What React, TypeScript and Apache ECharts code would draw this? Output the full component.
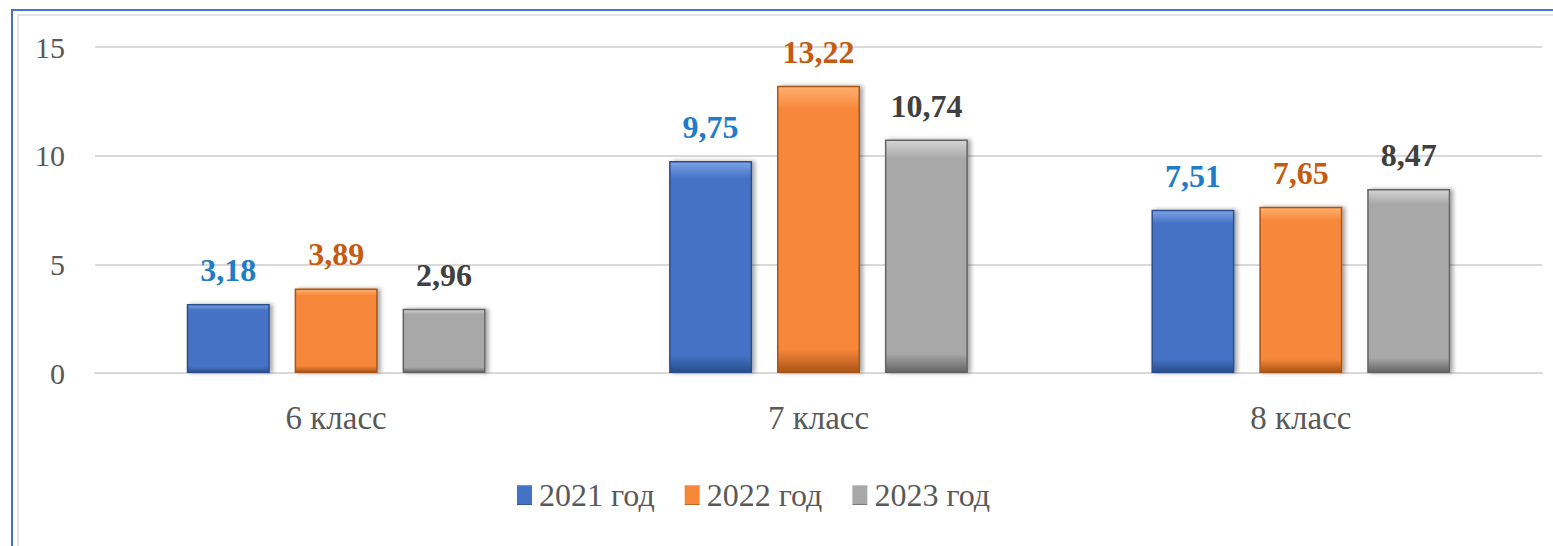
import React, { useEffect, useRef } from "react";
import * as echarts from "echarts";

const categories = ["6 класс", "7 класс", "8 класс"];
const seriesNames = ["2021 год", "2022 год", "2023 год"];
const values2021 = [3.18, 9.75, 7.51];
const values2022 = [3.89, 13.22, 7.65];
const values2023 = [2.96, 10.74, 8.47];
const yTicks = { min: 0, max: 15, interval: 5 };

const barColors = [
  ["#7ea3e6", "#4472c4", "#2a4d8c"],
  ["#ffb070", "#f7883a", "#a85418"],
  ["#d4d4d4", "#a8a8a8", "#646464"],
];
const labelColors = ["#1e7cc8", "#c55a11", "#404040"];

export default function App() {
  const ref = useRef<HTMLDivElement>(null);
  useEffect(() => {
    if (!ref.current) return;
    const chart = echarts.init(ref.current, undefined, { renderer: "svg" });
    const all = [values2021, values2022, values2023];
    const font = "Liberation Serif";
    const series = all.map((vals, i) => ({
      name: seriesNames[i],
      type: "bar",
      data: vals,
      barWidth: 83,
      barGap: "30%",
      itemStyle: {
        color: new echarts.graphic.LinearGradient(0, 0, 0, 1, [
          { offset: 0, color: barColors[i][0] },
          { offset: 0.08, color: barColors[i][1] },
          { offset: 0.92, color: barColors[i][1] },
          { offset: 1, color: barColors[i][2] },
        ]),
        borderColor: barColors[i][2],
        borderWidth: 1.5,
        shadowColor: "rgba(0,0,0,0.35)",
        shadowBlur: 4,
        shadowOffsetX: 3,
        shadowOffsetY: 0,
      },
      label: {
        show: true,
        position: "top",
        distance: 18,
        formatter: (p: any) => String(p.value.toFixed(2)).replace(".", ","),
        color: labelColors[i],
        fontFamily: font,
        fontWeight: "bold",
        fontSize: 32,
      },
    }));
    chart.setOption({
      animation: false,
      backgroundColor: "#ffffff",
      textStyle: { fontFamily: font },
      grid: { left: 95, right: 11, top: 47, bottom: 173, containLabel: false },
      legend: {
        show: true,
        bottom: 30,
        left: 512,
        itemWidth: 15,
        itemHeight: 20,
        itemGap: 30,
        itemStyle: { borderWidth: 0 },
        icon: "rect",
        textStyle: { fontFamily: font, fontSize: 32, color: "#595959", padding: [0, 0, 0, 2] },
        data: seriesNames,
      },
      xAxis: {
        type: "category",
        data: categories,
        axisLine: { show: true, lineStyle: { color: "#d9d9d9", width: 2 } },
        axisTick: { show: false },
        axisLabel: { fontFamily: font, fontSize: 33, color: "#595959", margin: 28 },
      },
      yAxis: {
        type: "value",
        min: yTicks.min,
        max: yTicks.max,
        interval: yTicks.interval,
        axisLine: { show: false },
        axisTick: { show: false },
        splitLine: { lineStyle: { color: "#d9d9d9", width: 2 } },
        axisLabel: { fontFamily: font, fontSize: 30, color: "#595959", margin: 30 },
      },
      graphic: [
        { type: "rect", shape: { x: 18, y: 15, width: 1600, height: 600 }, style: { fill: "none", stroke: "#e3e3e3", lineWidth: 2 }, silent: true },
        { type: "rect", shape: { x: 12, y: 10, width: 1600, height: 600 }, style: { fill: "none", stroke: "#4472c4", lineWidth: 2 }, silent: true },
      ],
      series,
    });
    return () => chart.dispose();
  }, []);
  return (
    <div
      ref={ref}
      style={{ position: "fixed", left: 0, top: 0, width: 1553, height: 546 }}
    />
  );
}
